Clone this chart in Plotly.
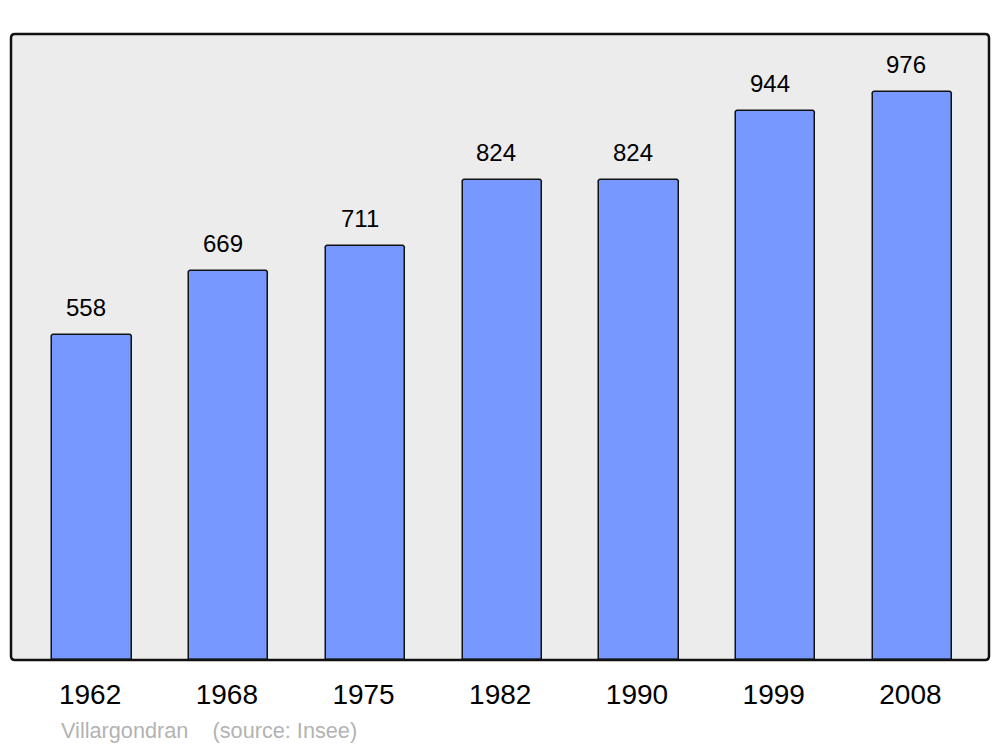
import plotly.graph_objects as go

years = ["1962", "1968", "1975", "1982", "1990", "1999", "2008"]
population = [558, 669, 711, 824, 824, 944, 976]
caption_place = "Villargondran"
caption_source = "(source: Insee)"

W, H = 1000, 747
L, R, T, B = 11, 989, 34, 660

fig = go.Figure()
fig.add_trace(go.Bar(
    x=list(range(len(years))), y=population,
    width=0.58,
    marker=dict(color="#7799ff", line=dict(color="#111111", width=1.5), cornerradius=3),
    hoverinfo="skip",
))

for i, v in enumerate(population):
    fig.add_annotation(x=i, y=v, text=str(v), showarrow=False,
                       yanchor="bottom", yshift=12, xshift=-6,
                       font=dict(family="Liberation Sans, Arial", size=24, color="#000000"))

fig.add_annotation(xref="paper", yref="paper", x=(59 - L) / (R - L), y=-(730 - B) / (B - T),
                   xanchor="left", yanchor="middle", showarrow=False,
                   text=caption_place + "    " + caption_source,
                   font=dict(family="Liberation Sans, Arial", size=21.7, color="#b3b3b3"))

rx, ry = 4 / (R - L), 4 / (B - T)
path = (f"M {rx},0 L {1-rx},0 Q 1,0 1,{ry} L 1,{1-ry} Q 1,1 {1-rx},1 "
        f"L {rx},1 Q 0,1 0,{1-ry} L 0,{ry} Q 0,0 {rx},0 Z")
fig.add_shape(type="path", path=path, xref="paper", yref="paper",
              fillcolor="#ececec", line=dict(width=0), layer="below")
fig.add_shape(type="path", path=path, xref="paper", yref="paper",
              fillcolor="rgba(0,0,0,0)", line=dict(color="#111111", width=2.5), layer="above")

fig.update_layout(
    width=W, height=H,
    margin=dict(l=L, r=W - R, t=T, b=H - B, pad=0),
    paper_bgcolor="white", plot_bgcolor="rgba(0,0,0,0)",
    showlegend=False,
    bargap=0,
    xaxis=dict(range=[-0.593, 6.56], tickmode="array", tickvals=list(range(len(years))),
               ticktext=years, showgrid=False, zeroline=False, showline=False,
               ticks="outside", ticklen=9, tickcolor="rgba(0,0,0,0)", ticklabelshift=-2,
               tickfont=dict(family="Liberation Sans, Arial", size=28, color="#000000"),
               fixedrange=True),
    yaxis=dict(range=[0, 1075.6], showgrid=False, zeroline=False, showline=False,
               showticklabels=False, ticks="", fixedrange=True),
)

fig.write_html("out.html", config={"displayModeBar": False},
               post_script="document.body.style.margin='0';document.body.style.overflow='hidden';")
